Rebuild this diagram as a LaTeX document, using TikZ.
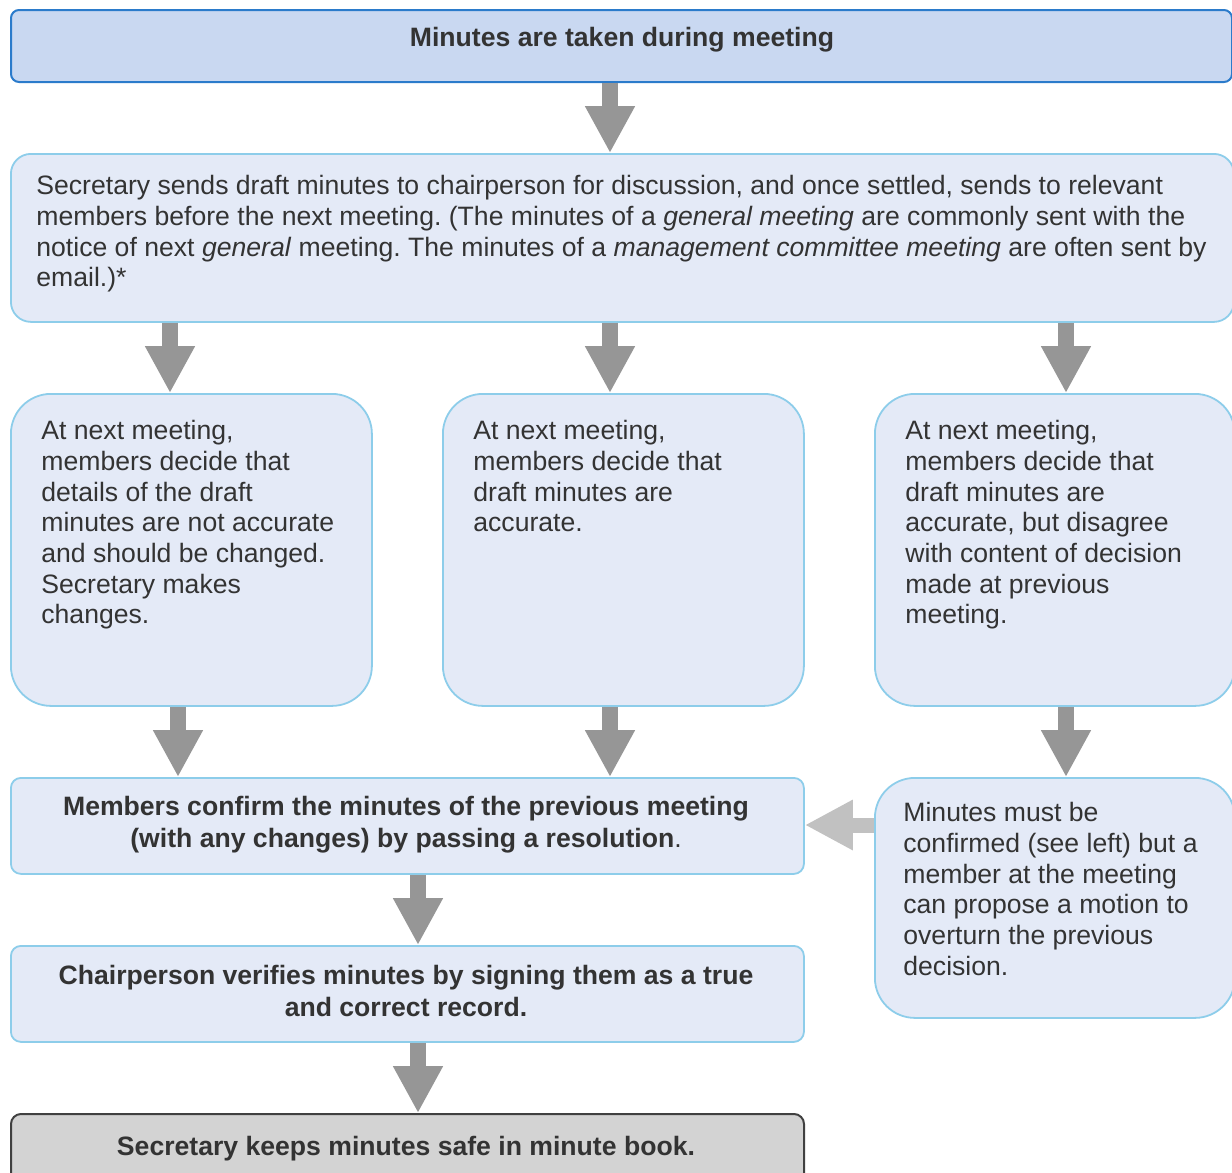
\documentclass[tikz,border=0pt]{standalone}
\usepackage{fontspec}
\setmainfont{Liberation Sans}
\usetikzlibrary{arrows.meta}
\frenchspacing
\definecolor{topfill}{HTML}{C9D8F1}
\definecolor{topline}{HTML}{2B7BCB}
\definecolor{boxfill}{HTML}{E4EAF7}
\definecolor{boxline}{HTML}{8DCDEA}
\definecolor{endfill}{HTML}{D3D3D3}
\definecolor{endline}{HTML}{404040}
\definecolor{arrowgray}{HTML}{969696}
\definecolor{arrowlight}{HTML}{C1C1C1}
\definecolor{txt}{HTML}{333333}
\begin{document}
\begin{tikzpicture}[x=0.5pt,y=-0.5pt,
  box/.style={draw=boxline, fill=boxfill, line width=0.9pt, inner sep=0pt, anchor=north west},
  topbox/.style={draw=topline, fill=topfill, line width=1pt, inner sep=0pt, anchor=north west, rounded corners=4pt},
  endbox/.style={draw=endline, fill=endfill, line width=1pt, inner sep=0pt, anchor=north west, rounded corners=5pt},
  plain/.style={anchor=north west, inner sep=0pt, align=left, text=txt, font=\frenchspacing\fontsize{13.3}{15.35}\selectfont},
  boldtxt/.style={inner sep=0pt, align=center, text=txt, font=\frenchspacing\bfseries\fontsize{13.3}{16}\selectfont},
  downarrow/.style={draw=arrowgray, line width=8pt, -{Triangle[length=23.5pt,width=23.5pt]}},
  sidearrow/.style={draw=arrowlight, line width=7.5pt, -{Triangle[length=24pt,width=23.5pt]}}
]
\useasboundingbox (0,0) rectangle (1232,1173);
\clip (0,0) rectangle (1232,1173);

% columns
\coordinate (cA) at (170,0);
\coordinate (cB) at (610,0);
\coordinate (cC) at (1066,0);
\coordinate (cD) at (178,0);
\coordinate (cE) at (418,0);
\coordinate (rS) at (0,825);

% boxes
\node[topbox, minimum width=610.5pt, minimum height=36pt] (top) at (10,9) {};
\node[box, rounded corners=10pt, minimum width=611.5pt, minimum height=84pt] (sec) at (10,153) {};
\node[box, rounded corners=20pt, minimum width=180.5pt, minimum height=156pt] (left) at (10,393) {};
\node[box, rounded corners=20pt, minimum width=180.5pt, minimum height=156pt] (mid) at (442,393) {};
\node[box, rounded corners=20pt, minimum width=180pt, minimum height=156pt] (right) at (874,393) {};
\node[box, rounded corners=5pt, minimum width=396.5pt, minimum height=48pt] (conf) at (10,777) {};
\node[box, rounded corners=20pt, minimum width=180pt, minimum height=120pt] (over) at (874,777) {};
\node[box, rounded corners=5pt, minimum width=396.5pt, minimum height=48pt] (chair) at (10,945) {};
\node[endbox, minimum width=396.5pt, minimum height=70pt] (keep) at (10,1113) {};

% texts
\node[boldtxt, anchor=base] (ttop) at (622,46) {Minutes are taken during meeting};
\node[plain] (tsec) at (36,175) {Secretary sends draft minutes to chairperson for discussion, and once settled, sends to relevant\\
members before the next meeting. (The minutes of a \textit{general meeting} are commonly sent with the\\
notice of next \textit{general} meeting. The minutes of a \textit{management committee meeting} are often sent by\\
email.)*};
\node[plain] (tleft) at (41,420) {At next meeting,\\members decide that\\details of the draft\\minutes are not accurate\\and should be changed.\\Secretary makes\\changes.};
\node[plain] (tmid) at (473,420) {At next meeting,\\members decide that\\draft minutes are\\accurate.};
\node[plain] (tright) at (905,420) {At next meeting,\\members decide that\\draft minutes are\\accurate, but disagree\\with content of decision\\made at previous\\meeting.};
\node[boldtxt] (tconf) at (406,825) {Members confirm the minutes of the previous meeting\\(with any changes) by passing a resolution\mdseries.};
\node[plain] (tover) at (903,802) {Minutes must be\\confirmed (see left) but a\\member at the meeting\\can propose a motion to\\overturn the previous\\decision.};
\node[boldtxt] (tchair) at (406,991) {Chairperson verifies minutes by signing them as a true\\and correct record.};
\node[boldtxt, anchor=base] (tkeep) at (406,1155) {Secretary keeps minutes safe in minute book.};

% arrows
\draw[downarrow] (top.south -| cB) -- (sec.north -| cB);
\draw[downarrow] (sec.south -| cA) -- (left.north -| cA);
\draw[downarrow] (sec.south -| cB) -- (mid.north -| cB);
\draw[downarrow] (sec.south -| cC) -- (right.north -| cC);
\draw[downarrow] (left.south -| cD) -- (conf.north -| cD);
\draw[downarrow] (mid.south -| cB) -- (conf.north -| cB);
\draw[downarrow] (right.south -| cC) -- (over.north -| cC);
\draw[downarrow] (conf.south -| cE) -- (chair.north -| cE);
\draw[downarrow] (chair.south -| cE) -- (keep.north -| cE);
\draw[sidearrow] (over.west |- rS) -- (conf.east |- rS);
\end{tikzpicture}
\end{document}
